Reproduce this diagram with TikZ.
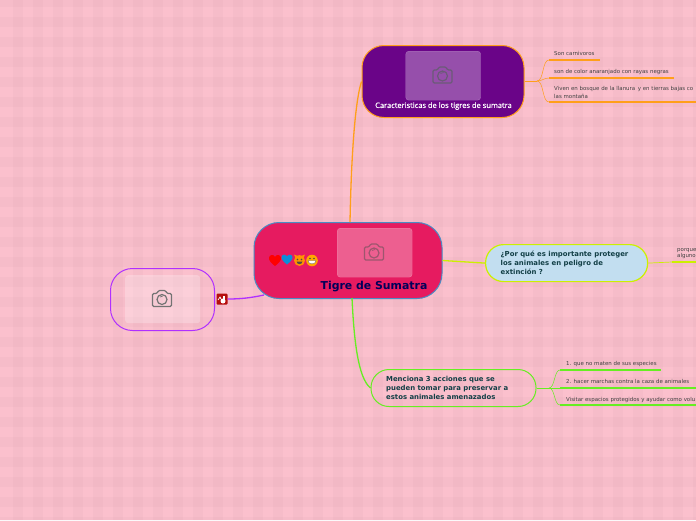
\documentclass[tikz,border=0pt]{standalone}
\usepackage{fontspec}
\setmainfont{DejaVu Sans}
\newfontfamily\capfont[RawFeature={embolden=0.6}]{Open Sans}
\definecolor{bgA}{HTML}{FBC0CD}
\definecolor{orangeL}{HTML}{FF9F1A}
\definecolor{yellowL}{HTML}{CCF000}
\definecolor{greenL}{HTML}{66EE22}
\definecolor{violetL}{HTML}{B030FF}
\definecolor{crimson}{HTML}{E61B60}
\definecolor{royal}{HTML}{6A0488}
\definecolor{skyfill}{HTML}{C2DEF0}
\definecolor{iconGrey}{HTML}{6B5A78}
\definecolor{rootBorder}{HTML}{4A8CC4}
\definecolor{titleInk}{HTML}{123F46}
\tikzset{
  x=1pt,y=-1pt,
  topicbox/.style={draw,line width=1pt,rounded corners=#1,minimum height=0pt,inner sep=0pt,anchor=north west},
  photo/.style={rounded corners=3pt,fill=white,anchor=north west,inner sep=0pt,minimum width=75pt},
  title/.style={font=\bfseries\fontsize{6.9}{8.8}\selectfont,text=titleInk,align=left,anchor=west,inner sep=0pt},
  leaf/.style={font=\fontsize{5.45}{7.5}\selectfont,text=black!75,align=left,anchor=west,inner sep=0pt},
  branch/.style={line width=.5pt},
  rule/.style={line width=1.3pt},
  link/.style={line width=1.3pt},
}
\newcommand{\cameraicon}[3]{%
  \begin{scope}[shift={(#1,#2)},draw=#3,line width=1.2pt]
    \draw[rounded corners=1.2pt] (-9.5,-5.5) -- (-5,-5.5) -- (-3.5,-8.5) -- (3.5,-8.5) -- (5,-5.5) -- (9.5,-5.5) -- (9.5,7.5) -- (-9.5,7.5) -- cycle;
    \draw (0,0.5) circle[radius=5];
    \draw[line width=.7pt] (-2,-2) -- (1,-3);
  \end{scope}}
\begin{document}
\begin{tikzpicture}
\useasboundingbox (0,0) rectangle (696,520);
\clip (0,0) rectangle (696,520);
% plaid background
\fill[bgA] (0,0) rectangle (696,520);
\foreach \i in {0,...,34} \fill[black!60!magenta,opacity=.03] ({13+20*\i},0) rectangle ({23+20*\i},520);
\foreach \j in {0,...,26} \fill[black!60!magenta,opacity=.03] (0,{-3+20*\j}) rectangle (696,{7+20*\j});

% topic nodes
\node[topicbox=22pt,draw=orangeL,fill=royal,minimum width=162pt,minimum height=72pt] (feat) at (361.5,45) {};
\node[topicbox=25pt,draw=rootBorder,fill=crimson,minimum width=188pt,minimum height=76pt] (root) at (253.5,222) {};
\node[topicbox=18pt,draw=yellowL,line width=1.2pt,fill=skyfill,minimum width=162pt,minimum height=37pt] (why) at (485,244) {};
\node[topicbox=18pt,draw=greenL,minimum width=165pt,minimum height=37pt] (act) at (370.5,369) {};
\node[topicbox=22pt,draw=violetL,minimum width=104pt,minimum height=62pt] (pic) at (110,268) {};

% connectors between nodes
\coordinate (rootT) at (350,222);
\coordinate (rootB) at (352,298);
\coordinate (rootL) at (264,295);
\node[fill=red!70!black!95,rounded corners=1pt,minimum size=11pt,inner sep=0pt] (flag) at (222,299) {};
\draw[orangeL,link] (rootT) .. controls (351,170) and (354,105) .. (feat.west);
\draw[greenL,link] (rootB) .. controls (354,340) and (358,378) .. (act.west);
\draw[yellowL,link] (root.east) -- (why.west);
\draw[violetL,link] (flag.east) .. controls (240,299) and (250,298) .. (rootL);

% photo placeholders
\node[photo,fill opacity=.3,draw=white,draw opacity=.25,minimum height=49pt] (featimg) at (405.5,51) {};
\node[photo,fill opacity=.3,draw=white,draw opacity=.25,minimum height=49pt] (rootimg) at (337,228) {};
\node[photo,fill opacity=.25,minimum height=48pt] (picimg) at (125,275) {};
\cameraicon{442.5}{75.5}{iconGrey}
\cameraicon{374}{252.5}{crimson!50!black!70}
\cameraicon{162}{299}{black!55}

% emoji
\path[fill=red] (275,266) .. controls (271,263) and (268.5,260) .. (269,257.5) .. controls (269.5,254.5) and (274,254) .. (275,257) .. controls (276,254) and (280.5,254.5) .. (281,257.5) .. controls (281.5,260) and (279,263) .. (275,266) -- cycle;
\path[fill=cyan!75!blue] (287,264.5) .. controls (283,261.5) and (281,258.5) .. (281.5,257) .. controls (282,254) and (286,254) .. (287,256.5) .. controls (288,254) and (292,254) .. (292.5,257) .. controls (293,258.5) and (291,261.5) .. (287,264.5) -- cycle;
\fill[orange!85!yellow] (299.5,260.5) circle[radius=5.5];
\fill[orange!85!yellow] (294,254.5) -- (295.5,258) -- (298,256) -- cycle (305,254.5) -- (303.5,258) -- (301,256) -- cycle;
\fill[black!70] (297.5,259.5) circle[radius=.8] (301.5,259.5) circle[radius=.8];
\fill[black!70] (296.5,261.5) -- (302.5,261.5) .. controls (302,265) and (297,265) .. (296.5,261.5);
\fill[orange!70!yellow] (312,260.5) circle[radius=5.8];
\fill[black!70] (310,258.5) circle[radius=.8] (314,258.5) circle[radius=.8];
\fill[white,draw=black!60,line width=.3pt] (308,260.5) -- (316,260.5) .. controls (316,265) and (308,265) .. (308,260.5);

% titles
\node[font=\capfont\fontsize{7.5}{9}\selectfont,text=white,inner sep=0pt] (featT) at (443.5,106) {Caracteristicas de los tigres de sumatra};
\node[font=\bfseries\fontsize{10.9}{13}\selectfont,text=blue!35!black,inner sep=0pt] (rootT2) at (374,287) {Tigre de Sumatra};
\node[title] (whyT) at (500.5,262.5) {¿Por qué es importante proteger\\los animales en peligro de\\extinción ?};
\node[title] (actT) at (386,388) {Menciona 3 acciones que se\\pueden tomar para preservar a\\estos animales amenazados};

% icon on the flag
\fill[white] (223,301) circle[radius=2.5];
\fill[white] (222.5,295.5) rectangle (224.5,298.5);
\draw[white,line width=.7pt] (218,300) -- (220,297) -- (221,299);

% orange branch
\coordinate (fa) at (537,81);
\coordinate (f1) at (549,60);
\coordinate (f2) at (549,78);
\coordinate (f3) at (549,102);
\draw[orangeL,line width=1pt] (feat.east |- fa) -- (fa);
\draw[orangeL,branch] (fa) .. controls (544,81) and (542,60) .. (f1);
\draw[orangeL,branch] (fa) .. controls (542,81) and (544,78) .. (f2);
\draw[orangeL,branch] (fa) .. controls (544,81) and (542,102) .. (f3);
\coordinate (f1e) at (600,60);
\coordinate (f2e) at (674,78);
\coordinate (f3e) at (696,102);
\draw[orangeL,rule] (f1) -- (f1e);
\draw[orangeL,rule] (f2) -- (f2e);
\draw[orangeL,rule] (f3) -- (f3e);
\node[leaf] (l1) at (554,53.5) {Son carnivoros};
\node[leaf] (l2) at (554,71.5) {son de color anaranjado con rayas negras};
\node[leaf] (l3) at (554,92.5) {Viven en bosque de la llanura\, y en tierras bajas co\\las montaña};

% yellow branch
\coordinate (ye) at (696,262);
\coordinate (ym) at (672,262);
\draw[yellowL,line width=.7pt] (why.east) -- (ym);
\draw[yellowL,rule] (ym) -- (ye);
\node[leaf,font=\fontsize{5.45}{6.5}\selectfont] (l4) at (677,253.5) {porque\\alguno};

% green branch
\coordinate (ga) at (549,388);
\coordinate (g1) at (560,370);
\coordinate (g2) at (560,388);
\coordinate (g3) at (560,405);
\draw[greenL,line width=.8pt] (act.east) -- (ga);
\draw[greenL,branch] (ga) .. controls (555,388) and (554,370) .. (g1);
\draw[greenL,branch] (ga) -- (g2);
\draw[greenL,branch] (ga) .. controls (555,388) and (554,405) .. (g3);
\coordinate (g1e) at (661,370);
\coordinate (g2e) at (696,388);
\coordinate (g3e) at (696,405);
\draw[greenL,rule] (g1) -- (g1e);
\draw[greenL,rule] (g2) -- (g2e);
\draw[greenL,rule] (g3) -- (g3e);
\node[leaf] (l5) at (566,363.5) {1. que no maten de sus especies};
\node[leaf] (l6) at (566,381.5) {2. hacer marchas contra la caza de animales};
\node[leaf] (l7) at (566,399.5) {Visitar espacios protegidos y ayudar como volu};
\end{tikzpicture}
\end{document}
